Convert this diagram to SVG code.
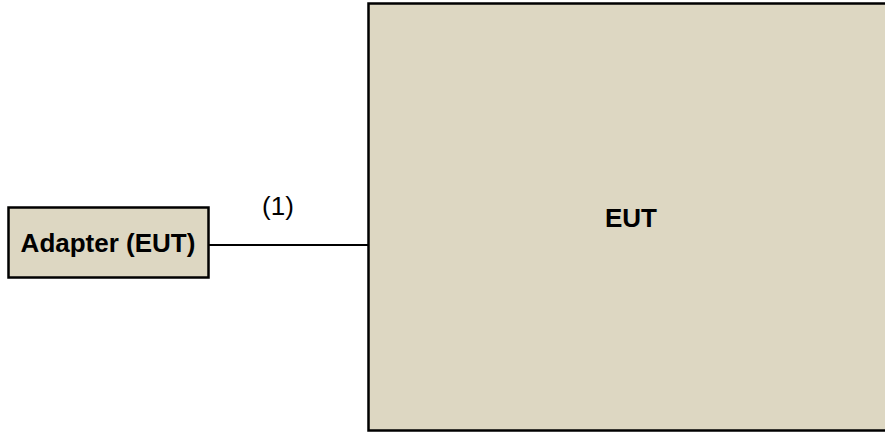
<svg xmlns="http://www.w3.org/2000/svg" width="885" height="432" viewBox="0 0 885 432">
<style>
.box{fill:#ddd7c2;stroke:#000;stroke-width:2.5}
.lbl{font-family:"Liberation Sans",Arial,sans-serif;font-weight:bold;font-size:26px;fill:#000;text-anchor:middle}
.conn{stroke:#000;stroke-width:2;fill:none}
.clbl{font-family:"Liberation Sans",Arial,sans-serif;font-size:26px;fill:#000;text-anchor:middle}
</style>
<rect width="885" height="432" fill="#fff"/>
<g id="connectors">
<line class="conn" x1="208" y1="245" x2="368" y2="245"/>
<text class="clbl" x="278" y="215">(1)</text>
</g>
<g id="eut">
<rect class="box" x="368.5" y="3.5" width="530" height="427"/>
<text class="lbl" x="631" y="227">EUT</text>
</g>
<g id="adapter">
<rect class="box" x="8.5" y="207.5" width="200" height="70"/>
<text class="lbl" x="108" y="252">Adapter (EUT)</text>
</g>
</svg>
